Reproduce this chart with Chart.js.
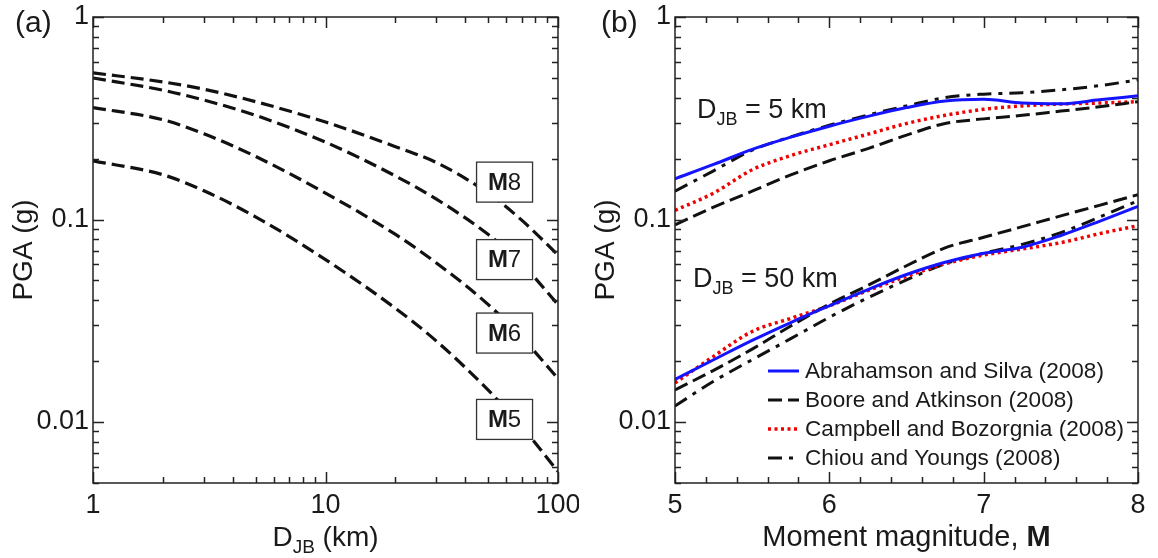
<!DOCTYPE html>
<html>
<head>
<meta charset="utf-8">
<script src="https://cdn.jsdelivr.net/npm/chart.js@4.4.0/dist/chart.umd.min.js"></script>
<style>
  html, body { margin: 0; padding: 0; background: #fff; }
  #wrap { position: relative; width: 1158px; height: 558px; }
  .panel { position: absolute; top: 0; width: 579px; height: 558px; }
</style>
</head>
<body>
<div id="wrap">
  <div class="panel" style="left:0"><canvas id="chartA"></canvas></div>
  <div class="panel" style="left:579px"><canvas id="chartB"></canvas></div>
</div>
<script>
'use strict';

// panel (a): PGA vs distance, one curve per magnitude
let distKm = [1, 2, 3, 5, 10, 20, 30, 50, 70, 100];
let pgaM8 = [0.53, 0.478, 0.440, 0.382, 0.303, 0.229, 0.191, 0.135, 0.099, 0.0668];
let pgaM7 = [0.50, 0.435, 0.389, 0.327, 0.241, 0.164, 0.126, 0.0845, 0.0604, 0.038];
let pgaM6 = [0.357, 0.311, 0.265, 0.205, 0.135, 0.0844, 0.061, 0.0381, 0.0261, 0.0164];
let pgaM5 = [0.195, 0.1663, 0.1387, 0.1031, 0.0634, 0.0364, 0.0251, 0.0144, 0.00946, 0.0057];
let magLabels = ['8', '7', '6', '5'];

// panel (b): PGA vs magnitude at two distances
let magB = [5, 5.25, 5.5, 5.75, 6, 6.25, 6.5, 6.75, 7, 7.25, 7.5, 7.75, 8];
let as5 = [0.159, 0.187, 0.222, 0.255, 0.289, 0.323, 0.357, 0.385, 0.392, 0.376, 0.373, 0.390, 0.408];
let ba5 = [0.0941, 0.115, 0.138, 0.166, 0.195, 0.224, 0.261, 0.298, 0.314, 0.327, 0.343, 0.360, 0.382];
let cb5 = [0.111, 0.135, 0.176, 0.207, 0.234, 0.264, 0.298, 0.327, 0.350, 0.364, 0.372, 0.376, 0.382];
let cy5 = [0.138, 0.174, 0.220, 0.256, 0.292, 0.328, 0.364, 0.400, 0.416, 0.423, 0.437, 0.458, 0.489];
let as50 = [0.01625, 0.0203, 0.0253, 0.0310, 0.0375, 0.0451, 0.0535, 0.0615, 0.0681, 0.0730, 0.0834, 0.0980, 0.1161];
let ba50 = [0.0144, 0.0180, 0.0229, 0.0298, 0.0382, 0.0473, 0.0591, 0.0724, 0.0817, 0.0922, 0.1042, 0.1175, 0.1327];
let cb50 = [0.0156, 0.0211, 0.0280, 0.0325, 0.0375, 0.0446, 0.0524, 0.0604, 0.0668, 0.0715, 0.0769, 0.0851, 0.0933];
let cy50 = [0.0120, 0.0159, 0.0203, 0.0258, 0.0329, 0.0411, 0.0503, 0.0604, 0.0681, 0.0754, 0.0861, 0.1028, 0.1239];
let modelNames = ['Abrahamson and Silva (2008)', 'Boore and Atkinson (2008)',
  'Campbell and Bozorgnia (2008)', 'Chiou and Youngs (2008)'];

// tick labels
let yTickLabels = [0.01, 0.1, 1];
let xTickLabelsA = [1, 10, 100];
let xTickLabelsB = [5, 6, 7, 8];

const FONT = '"Liberation Sans", Arial, Helvetica, sans-serif';
const INK = '#1a1a1a';

function pts(xs, ys) {
  return xs.map((x, i) => ({ x: x, y: ys[i] }));
}

function logTicks(min, max) {
  let out = [];
  for (let e = -3; e <= 2; e++) {
    for (let m = 1; m <= 9; m++) {
      let v = m * Math.pow(10, e);
      if (v >= min * 0.999 && v <= max * 1.001) out.push({ value: v });
    }
  }
  return out;
}

function isLabel(list, v) {
  return list.some(l => Math.abs(v / l - 1) < 1e-6);
}

function drawParts(ctx, parts, x, y, align) {
  let w = 0;
  parts.forEach(p => { ctx.font = p.font; w += ctx.measureText(p.t).width; });
  let cx = align === 'center' ? x - w / 2 : x;
  parts.forEach(p => {
    ctx.font = p.font;
    ctx.fillText(p.t, cx, y + (p.dy || 0));
    cx += ctx.measureText(p.t).width;
  });
}

function djbParts(size, rest) {
  return [
    { t: 'D', font: size + 'px ' + FONT },
    { t: 'JB', font: Math.round(size * 0.68) + 'px ' + FONT, dy: size * 0.26 },
    { t: rest, font: size + 'px ' + FONT }
  ];
}

// frame with inward ticks on all four sides
function drawFrame(chart, xLabels) {
  let ctx = chart.ctx, a = chart.chartArea;
  let xs = chart.scales.x, ys = chart.scales.y;
  ctx.save();
  ctx.strokeStyle = '#222';
  ctx.lineWidth = 1.5;
  ctx.setLineDash([]);
  ctx.beginPath();
  xs.ticks.forEach(t => {
    let len = isLabel(xLabels, t.value) ? 11 : 6;
    let p = Math.round(xs.getPixelForValue(t.value)) + 0.5;
    ctx.moveTo(p, a.bottom); ctx.lineTo(p, a.bottom - len);
    ctx.moveTo(p, a.top); ctx.lineTo(p, a.top + len);
  });
  ys.ticks.forEach(t => {
    let len = isLabel(yTickLabels, t.value) ? 11 : 6;
    let p = Math.round(ys.getPixelForValue(t.value)) + 0.5;
    ctx.moveTo(a.left, p); ctx.lineTo(a.left + len, p);
    ctx.moveTo(a.right, p); ctx.lineTo(a.right - len, p);
  });
  ctx.stroke();
  ctx.strokeRect(a.left, a.top, a.right - a.left, a.bottom - a.top);
  ctx.restore();
}

function drawYTitle(ctx, x, y) {
  ctx.save();
  ctx.fillStyle = INK;
  ctx.translate(x, y);
  ctx.rotate(-Math.PI / 2);
  ctx.textAlign = 'center';
  ctx.textBaseline = 'alphabetic';
  ctx.font = '28px ' + FONT;
  ctx.fillText('PGA (g)', 0, 0);
  ctx.restore();
}

function yScale() {
  return {
    type: 'logarithmic',
    min: 0.005,
    max: 1,
    afterBuildTicks: s => { s.ticks = logTicks(0.005, 1); },
    afterFit: s => { s.width = s.chart.canvas.id === 'chartA' ? 93 : 96; s.paddingTop = 0; s.paddingBottom = 0; },
    grid: { display: false, drawTicks: false },
    border: { display: false },
    ticks: {
      autoSkip: false,
      padding: 4,
      color: INK,
      font: { family: FONT, size: 27 },
      callback: v => isLabel(yTickLabels, v) ? String(v) : ''
    }
  };
}

function xTickOpts(list) {
  return {
    autoSkip: false,
    maxRotation: 0,
    padding: 6,
    color: INK,
    font: { family: FONT, size: 27 },
    callback: v => isLabel(list, v) ? String(v) : ''
  };
}

const dashA = { borderColor: '#111', borderWidth: 3.2, borderDash: [13, 6] };

let ctxA = document.getElementById('chartA').getContext('2d');
let chartA = new Chart(ctxA, {
  type: 'scatter',
  data: {
    datasets: [pgaM8, pgaM7, pgaM6, pgaM5].map((arr, i) => Object.assign({
      label: 'M' + magLabels[i],
      data: pts(distKm, arr),
      showLine: true,
      pointRadius: 0,
      cubicInterpolationMode: 'monotone'
    }, dashA))
  },
  options: {
    responsive: true,
    maintainAspectRatio: false,
    animation: false,
    devicePixelRatio: 1,
    layout: { padding: { top: 17, right: 21, left: 0, bottom: 0 } },
    plugins: { legend: { display: false }, tooltip: { enabled: false } },
    scales: {
      x: {
        type: 'logarithmic',
        min: 1,
        max: 100,
        afterBuildTicks: s => { s.ticks = logTicks(1, 100); },
        afterFit: s => { s.height = 75; s.paddingLeft = 0; s.paddingRight = 0; },
        grid: { display: false, drawTicks: false },
        border: { display: false },
        ticks: xTickOpts(xTickLabelsA)
      },
      y: yScale()
    }
  },
  plugins: [{
    id: 'panelA',
    afterDraw(chart) {
      let ctx = chart.ctx, a = chart.chartArea;
      let xs = chart.scales.x, ys = chart.scales.y;
      // magnitude boxes
      let boxY = [0.153, 0.0634, 0.0275, 0.0103];
      ctx.save();
      magLabels.forEach((m, i) => {
        let cx = xs.getPixelForValue(58.9), cy = ys.getPixelForValue(boxY[i]);
        ctx.fillStyle = '#fff';
        ctx.fillRect(cx - 28, cy - 20, 56, 40);
        ctx.strokeStyle = '#333';
        ctx.lineWidth = 1.3;
        ctx.setLineDash([]);
        ctx.strokeRect(cx - 28, cy - 20, 56, 40);
        ctx.fillStyle = INK;
        ctx.textBaseline = 'middle';
        drawParts(ctx, [
          { t: 'M', font: 'bold 24px ' + FONT },
          { t: m, font: '24px ' + FONT }
        ], cx, cy + 1, 'center');
      });
      ctx.restore();
      drawFrame(chart, xTickLabelsA);
      ctx.save();
      ctx.fillStyle = INK;
      ctx.textBaseline = 'alphabetic';
      drawParts(ctx, djbParts(28, ' (km)'), (a.left + a.right) / 2, 546, 'center');
      ctx.font = '30px ' + FONT;
      ctx.fillText('(a)', 15, 32);
      ctx.restore();
      drawYTitle(ctx, 32, (a.top + a.bottom) / 2);
    }
  }]
});

let styles = [
  { borderColor: '#1414ff', borderWidth: 3, borderDash: [] },
  { borderColor: '#111', borderWidth: 3, borderDash: [14, 6] },
  { borderColor: '#f00000', borderWidth: 3.5, borderDash: [3, 3.5] },
  { borderColor: '#111', borderWidth: 3, borderDash: [14, 7, 4, 7] }
];
let series5 = [as5, ba5, cb5, cy5];
let series50 = [as50, ba50, cb50, cy50];

let datasetsB = [];
modelNames.forEach((name, i) => {
  [series5[i], series50[i]].forEach((arr, k) => {
    datasetsB.push(Object.assign({
      label: name + (k ? ' 50 km' : ' 5 km'),
      data: pts(magB, arr),
      showLine: true,
      pointRadius: 0,
      cubicInterpolationMode: 'monotone'
    }, styles[i]));
  });
});

let ctxB = document.getElementById('chartB').getContext('2d');
let chartB = new Chart(ctxB, {
  type: 'scatter',
  data: { datasets: datasetsB },
  options: {
    responsive: true,
    maintainAspectRatio: false,
    animation: false,
    devicePixelRatio: 1,
    layout: { padding: { top: 17, right: 20, left: 0, bottom: 0 } },
    plugins: { legend: { display: false }, tooltip: { enabled: false } },
    scales: {
      x: {
        type: 'linear',
        min: 5,
        max: 8,
        afterBuildTicks: s => {
          let t = [];
          for (let i = 0; i <= 15; i++) t.push({ value: Math.round((5 + i * 0.2) * 10) / 10 });
          s.ticks = t;
        },
        afterFit: s => { s.height = 75; s.paddingLeft = 0; s.paddingRight = 0; },
        grid: { display: false, drawTicks: false },
        border: { display: false },
        ticks: xTickOpts(xTickLabelsB)
      },
      y: yScale()
    }
  },
  plugins: [{
    id: 'panelB',
    afterDraw(chart) {
      let ctx = chart.ctx, a = chart.chartArea;
      drawFrame(chart, xTickLabelsB);
      ctx.save();
      ctx.fillStyle = INK;
      ctx.textBaseline = 'alphabetic';
      drawParts(ctx, djbParts(27, ' = 5 km'), a.left + 22, 118, 'left');
      drawParts(ctx, djbParts(27, ' = 50 km'), a.left + 18, 287, 'left');
      // legend
      modelNames.forEach((name, i) => {
        let y = 371 + i * 29;
        ctx.strokeStyle = styles[i].borderColor;
        ctx.lineWidth = styles[i].borderWidth;
        ctx.setLineDash(styles[i].borderDash);
        ctx.beginPath();
        ctx.moveTo(a.left + 93, y);
        ctx.lineTo(a.left + 124, y);
        ctx.stroke();
        ctx.fillStyle = INK;
        ctx.textBaseline = 'middle';
        ctx.font = '22.6px ' + FONT;
        ctx.fillText(name, a.left + 130, y + 1);
      });
      ctx.setLineDash([]);
      ctx.textBaseline = 'alphabetic';
      drawParts(ctx, [
        { t: 'Moment magnitude, ', font: '29px ' + FONT },
        { t: 'M', font: 'bold 29px ' + FONT }
      ], (a.left + a.right) / 2, 546, 'center');
      ctx.font = '30px ' + FONT;
      ctx.fillText('(b)', 22, 32);
      ctx.restore();
      drawYTitle(ctx, a.left - 61, (a.top + a.bottom) / 2);
    }
  }]
});
</script>
</body>
</html>
